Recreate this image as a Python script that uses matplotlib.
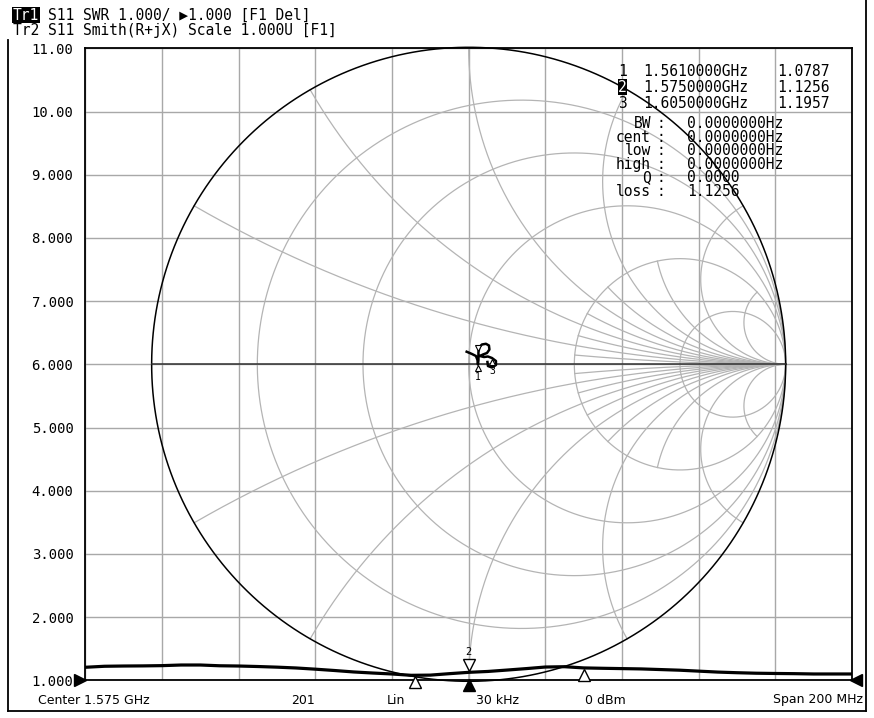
import numpy as np
import matplotlib.pyplot as plt
import matplotlib.transforms as mtransforms
from matplotlib.lines import Line2D

# ---- data ----
f_start, f_stop = 1.475, 1.675          # GHz, span 200 MHz
freq_ghz = np.linspace(f_start, f_stop, 41)
swr = [1.206, 1.222, 1.226, 1.228, 1.232, 1.242, 1.242, 1.230, 1.226, 1.218,
       1.208, 1.195, 1.176, 1.155, 1.132, 1.115, 1.100, 1.079, 1.082, 1.105,
       1.126, 1.140, 1.162, 1.185, 1.210, 1.215, 1.196, 1.190, 1.185, 1.180,
       1.170, 1.160, 1.145, 1.130, 1.120, 1.112, 1.108, 1.105, 1.100, 1.100,
       1.100]

# Smith trace (Tr2), reflection coefficient
gamma_re = [-0.0063, 0.0104, 0.0230, 0.0278, 0.0293, 0.0309, 0.0309, 0.0341,
            0.0420, 0.0546, 0.0640, 0.0656, 0.0577, 0.0451, 0.0356, 0.0483,
            0.0609, 0.0735, 0.0861, 0.0861, 0.0735, 0.0609, 0.0593]
gamma_im = [0.0397, 0.0325, 0.0262, 0.0136, -0.0006, 0.0136, 0.0388, 0.0546,
            0.0625, 0.0647, 0.0593, 0.0467, 0.0356, 0.0309, 0.0262, 0.0230,
            0.0246, 0.0199, 0.0104, -0.0022, -0.0101, -0.0054, 0.0073]
smith_marker_idx = [4, 6, 17]

marker_num = ["1", "2", "3"]
marker_freq = [1.561, 1.575, 1.605]
marker_val = [1.0787, 1.1256, 1.1957]

ytick_vals = [1, 2, 3, 4, 5, 6, 7, 8, 9, 10, 11]
ytick_labels = ["1.000", "2.000", "3.000", "4.000", "5.000", "6.000",
                "7.000", "8.000", "9.000", "10.00", "11.00"]

# Smith grid
r_circles = [0.2, 0.5, 1, 2, 5]
x_main_angles = [30, 60, 90, 120, 150]     # arc end angle on |G|=1, deg
x_fine_angles = [15, 45, 75, 105, 135, 165]  # only drawn for r >= 2
fine_r_min = 2

stat_labels = ["BW", "cent", "low", "high", "Q", "loss"]
stat_values = ["0.0000000Hz", "0.0000000Hz", "0.0000000Hz", "0.0000000Hz",
               "0.0000", "1.1256"]

header1_tag, header1 = "Tr1", "S11 SWR 1.000/ \u25b61.000 [F1 Del]"
header2 = "Tr2 S11 Smith(R+jX) Scale 1.000U [F1]"

# ---- figure ----
W, H = 874, 718
fig = plt.figure(figsize=(W / 100, H / 100), dpi=100)
MONO = ["DejaVu Sans Mono", "DejaVu Sans"]


def fx(x):
    return x / W


def fy(y):
    return 1 - y / H


ax_l, ax_r, ax_t, ax_b = 85.3, 852.0, 48.3, 680.3
ax = fig.add_axes([fx(ax_l), fy(ax_b), (ax_r - ax_l) / W, (ax_b - ax_t) / H])
ax.set_xlim(f_start, f_stop)
ax.set_ylim(1, 11)
ax.set_xticks(np.linspace(f_start, f_stop, 11))
ax.set_xticklabels([])
ax.set_yticks(ytick_vals)
ax.set_yticklabels(ytick_labels, fontfamily=MONO, fontsize=10)
ax.tick_params(length=0, pad=8.5)
ax.grid(True, color="#a8a8a8", lw=1.0)
ax.set_axisbelow(True)
for s in ax.spines.values():
    s.set_linewidth(1.3)
    s.set_color("black")

# Smith chart transform: unit circle -> 317 px radius at axes centre
R = 317.0
smith = mtransforms.Affine2D().scale(R / (ax_r - ax_l), R / (ax_b - ax_t)) \
    .translate(0.5, 0.5) + ax.transAxes
GRID_C = "#b4b4b4"

t = np.tan(np.linspace(-np.pi / 2 + 1e-4, np.pi / 2 - 1e-4, 1500))
for r in r_circles:
    g = (r + 1j * t - 1) / (r + 1j * t + 1)
    ax.plot(g.real, g.imag, color=GRID_C, lw=0.9, transform=smith, zorder=2)


def x_arc(ang, r_min):
    xv = 1 / np.tan(np.radians(ang) / 2)
    rr = r_min + np.tan(np.linspace(0, np.pi / 2 - 1e-4, 1500))
    for sgn in (1, -1):
        g = (rr + 1j * sgn * xv - 1) / (rr + 1j * sgn * xv + 1)
        ax.plot(g.real, g.imag, color=GRID_C, lw=0.9, transform=smith, zorder=2)


for ang in x_main_angles:
    x_arc(ang, 0)
for ang in x_fine_angles:
    x_arc(ang, fine_r_min)

th = np.linspace(0, 2 * np.pi, 800)
ax.plot(np.cos(th), np.sin(th), color="black", lw=1.1, transform=smith,
        zorder=3, clip_on=False)
ax.plot([-1, 1], [0, 0], color="#303030", lw=1.1, transform=smith, zorder=3)

# Smith trace
ax.plot(gamma_re, gamma_im, color="black", lw=1.8, transform=smith, zorder=5)
for k, idx in enumerate(smith_marker_idx):
    gx, gy = gamma_re[idx], gamma_im[idx]
    if k == 1:
        tr = mtransforms.offset_copy(smith, fig=fig, x=0, y=4, units="dots")
        ax.plot(gx, gy, marker="v", ms=5, mfc="white", mec="black", mew=0.8,
                transform=tr, zorder=6)
    else:
        tr = mtransforms.offset_copy(smith, fig=fig, x=0, y=-4, units="dots")
        ax.plot(gx, gy, marker="^", ms=5, mfc="white", mec="black", mew=0.8,
                transform=tr, zorder=6)
        tr2 = mtransforms.offset_copy(smith, fig=fig, x=0, y=-13, units="dots")
        ax.text(gx, gy, marker_num[k], transform=tr2, fontsize=7, ha="center",
                va="center", fontfamily=MONO, zorder=6)

# SWR trace
ax.plot(freq_ghz, swr, color="black", lw=2.3, zorder=6, solid_joinstyle="miter")

# SWR markers
for k in range(3):
    if k == 1:
        tr = mtransforms.offset_copy(ax.transData, fig=fig, x=0, y=7, units="dots")
        ax.plot(marker_freq[k], marker_val[k], marker="v", ms=8, mfc="white",
                mec="black", mew=1.0, transform=tr, zorder=7, clip_on=False)
        tr2 = mtransforms.offset_copy(ax.transData, fig=fig, x=0, y=20, units="dots")
        ax.text(marker_freq[k], marker_val[k], marker_num[k], transform=tr2,
                fontsize=7.5, ha="center", va="center", fontfamily=MONO)
        tr3 = mtransforms.offset_copy(ax.transData, fig=fig, x=0, y=-5, units="dots")
        ax.plot(marker_freq[k], 1, marker="^", ms=8, color="black",
                transform=tr3, zorder=7, clip_on=False)
    else:
        tr = mtransforms.offset_copy(ax.transData, fig=fig, x=0, y=-7, units="dots")
        ax.plot(marker_freq[k], marker_val[k], marker="^", ms=9, mfc="white",
                mec="black", mew=1.0, transform=tr, zorder=7, clip_on=False)

# reference level arrows
trl = mtransforms.offset_copy(ax.transData, fig=fig, x=-5, y=0, units="dots")
ax.plot(f_start, 1, marker=">", ms=9, color="black", transform=trl, clip_on=False)
trr = mtransforms.offset_copy(ax.transData, fig=fig, x=4, y=0, units="dots")
ax.plot(f_stop, 1, marker="<", ms=9, color="black", transform=trr, clip_on=False)

# ---- header ----
fig.text(fx(13), fy(15), header1_tag, fontfamily=MONO, fontsize=10.5,
         va="center", color="white",
         bbox=dict(facecolor="black", edgecolor="none", pad=0.6))
fig.text(fx(48.5), fy(15), header1, fontfamily=MONO, fontsize=10.5, va="center")
fig.text(fx(13), fy(30), header2, fontfamily=MONO, fontsize=10.5, va="center")

# ---- marker table ----
for k in range(3):
    y = 71 + k * 16.2
    if k == 1:
        fig.text(fx(618), fy(y), marker_num[k], fontfamily=MONO, fontsize=10.5,
                 va="center", color="white",
                 bbox=dict(facecolor="black", edgecolor="none", pad=0.3))
    else:
        fig.text(fx(618), fy(y), marker_num[k], fontfamily=MONO, fontsize=10.5,
                 va="center")
    fig.text(fx(643), fy(y), f"{marker_freq[k]:.7f}GHz", fontfamily=MONO,
             fontsize=10.5, va="center")
    fig.text(fx(777), fy(y), f"{marker_val[k]:.4f}", fontfamily=MONO,
             fontsize=10.5, va="center")

for k, (lab, val) in enumerate(zip(stat_labels, stat_values)):
    y = 123.5 + k * 13.6
    fig.text(fx(651), fy(y), lab, fontfamily=MONO, fontsize=10.5, va="center",
             ha="right")
    fig.text(fx(661), fy(y), ":", fontfamily=MONO, fontsize=10.5, va="center",
             ha="center")
    fig.text(fx(687), fy(y), val, fontfamily=MONO, fontsize=10.5, va="center")

# ---- bottom status line ----
by = 700
fig.text(fx(38), fy(by), "Center 1.575 GHz", fontsize=9, va="center")
fig.text(fx(303), fy(by), "201", fontsize=9, va="center", ha="center")
fig.text(fx(396), fy(by), "Lin", fontsize=9, va="center", ha="center")
fig.text(fx(497), fy(by), "30 kHz", fontsize=9, va="center", ha="center")
fig.text(fx(605), fy(by), "0 dBm", fontsize=9, va="center", ha="center")
fig.text(fx(863), fy(by), "Span 200 MHz", fontsize=9, va="center", ha="right")

# outer window frame
fig.add_artist(Line2D([fx(8), fx(8)], [fy(40), fy(711)], color="black", lw=1.3))
fig.add_artist(Line2D([fx(8), fx(866)], [fy(711), fy(711)], color="black", lw=1.3))
fig.add_artist(Line2D([fx(866), fx(866)], [fy(0), fy(711)], color="black", lw=1.3))

fig.savefig("out.png", dpi=100)
